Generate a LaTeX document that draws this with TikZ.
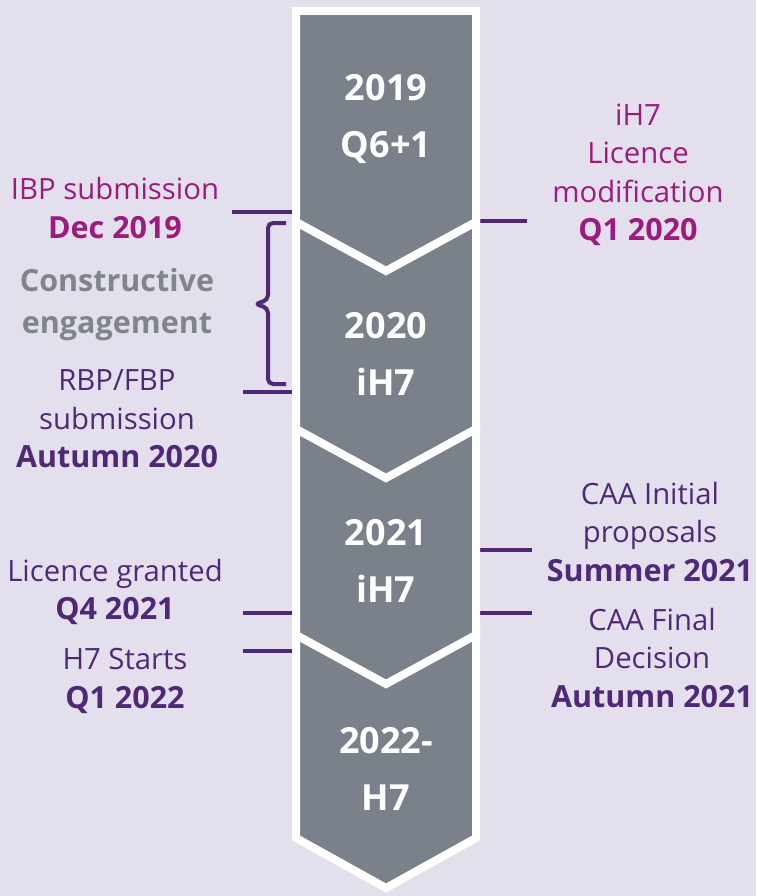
\documentclass[tikz,border=0pt]{standalone}
\usepackage{fontspec}
\setmainfont{Open Sans}
\usepackage{xcolor}
\usetikzlibrary{positioning,calc}

\definecolor{bgLav}{RGB}{227,223,236}
\definecolor{chevGrey}{RGB}{123,129,138}
\definecolor{hrMagenta}{RGB}{157,27,125}
\definecolor{hrPurple}{RGB}{79,40,120}
\definecolor{hrGrey}{RGB}{126,133,140}

\newcommand{\when}[1]{{\fontsize{30.5}{38.5}\selectfont\bfseries #1}}

\tikzset{
  chevron/.style={fill=chevGrey, draw=white, line width=8pt, line join=miter},
  yeartext/.style={text=white, font=\fontsize{36}{57}\selectfont\bfseries, align=center},
  eventtext/.style={font=\fontsize{29.3}{38.5}\selectfont, align=center, inner sep=0pt},
  tick/.style={draw=hrPurple, line width=4pt}
}

\begin{document}
\begin{tikzpicture}[x=1pt,y=-1pt]
\useasboundingbox (0,0) rectangle (756,896);
\fill[bgLav] (0,0) rectangle (756,896);

%ticks
\coordinate (ibpA) at (232,212);   \coordinate (ibpB) at (298,212);
\coordinate (rbpA) at (243,392);   \coordinate (rbpB) at (298,392);
\coordinate (grantA) at (243,613); \coordinate (grantB) at (298,613);
\coordinate (startA) at (243,651); \coordinate (startB) at (298,651);
\coordinate (modA) at (474,221);   \coordinate (modB) at (527,221);
\coordinate (initA) at (474,550);  \coordinate (initB) at (532,550);
\coordinate (finA) at (474,613);   \coordinate (finB) at (532,613);
\foreach \a/\b in {ibpA/ibpB,rbpA/rbpB,grantA/grantB,startA/startB,modA/modB,initA/initB,finA/finB}
  \draw[tick] (\a) -- (\b);

%bracket
\draw[hrPurple, line width=4pt, rounded corners=5pt]
  (286,223) -- (268,223) -- (268,300) -- (255,304) -- (268,308) -- (268,384) -- (286,384);

%chevrons
\draw[chevron] (296,11) -- (476,11) -- (476,222) -- (386,271) -- (296,222) -- cycle;
\foreach \t/\b in {222/429,429/635,635/838}
  \draw[chevron] (296,\t) -- (386,\t+49) -- (476,\t) -- (476,\b) -- (386,\b+50) -- (296,\b) -- cycle;

\node[yeartext] (y2019) at (386,119) {2019\\Q6+1};
\node[yeartext] (y2020) at (386,354) {2020\\iH7};
\node[yeartext] (y2021) at (386,561) {2021\\iH7};
\node[yeartext] (y2022) at (386,769) {2022-\\H7};

%left side
\node[eventtext, text=hrMagenta] (ibp) at (115,208) {IBP submission\\\when{Dec 2019}};
\node[eventtext, text=hrGrey, font=\fontsize{30.5}{42}\selectfont\bfseries] (engage) at (117,305) {Constructive\\engagement};
\node[eventtext, text=hrPurple] (rbp) at (117,419) {RBP/FBP\\submission\\\when{Autumn 2020}};
\node[eventtext, text=hrPurple] (grant) at (115,592) {Licence granted\\\when{Q4 2021}};
\node[eventtext, text=hrPurple] (start) at (125,681) {H7 Starts\\\when{Q1 2022}};

%right side
\node[eventtext, text=hrMagenta] (mod) at (638,175) {iH7\\Licence\\modification\\\when{Q1 2020}};
\node[eventtext, text=hrPurple] (init) at (650,532) {CAA Initial\\proposals\\\when{Summer 2021}};
\node[eventtext, text=hrPurple] (fin) at (652,658) {CAA Final\\Decision\\\when{Autumn 2021}};
\end{tikzpicture}
\end{document}
